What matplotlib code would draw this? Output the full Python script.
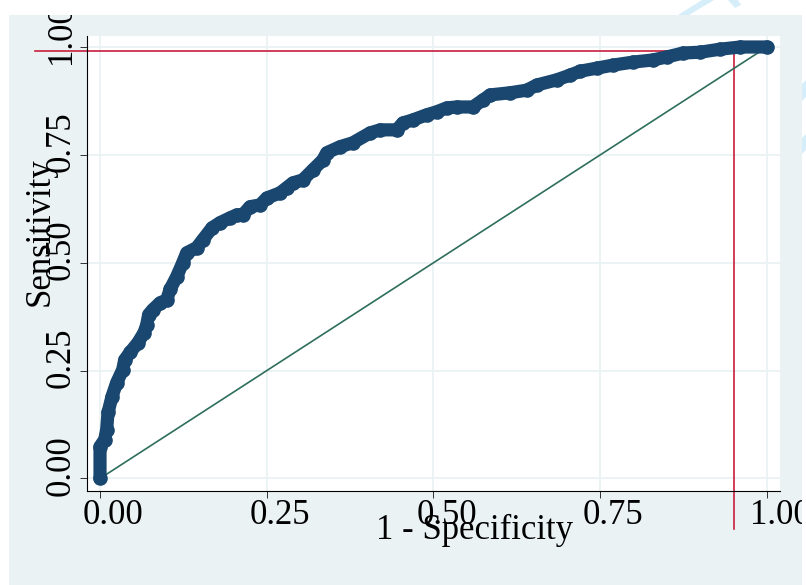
import matplotlib
matplotlib.use("Agg")
import matplotlib.pyplot as plt
from matplotlib.patches import Rectangle, Polygon
from matplotlib.transforms import ScaledTranslation

# ---------------- data ----------------
fpr = [0.000, 0.000, 0.007, 0.010, 0.012, 0.018, 0.025, 0.034, 0.037, 0.045,
       0.057, 0.066, 0.070, 0.073, 0.079, 0.090, 0.100, 0.105, 0.115, 0.124,
       0.130, 0.145, 0.154, 0.168, 0.180, 0.195, 0.205, 0.214, 0.225, 0.240,
       0.250, 0.270, 0.280, 0.289, 0.304, 0.319, 0.334, 0.340, 0.360, 0.379,
       0.405, 0.420, 0.445, 0.454, 0.469, 0.490, 0.505, 0.520, 0.535, 0.559,
       0.574, 0.585, 0.615, 0.640, 0.655, 0.685, 0.705, 0.720, 0.745, 0.769,
       0.799, 0.829, 0.850, 0.874, 0.900, 0.930, 0.960, 1.000]
tpr = [0.000, 0.074, 0.090, 0.113, 0.153, 0.190, 0.222, 0.252, 0.275, 0.292,
       0.315, 0.338, 0.356, 0.380, 0.391, 0.407, 0.414, 0.438, 0.468, 0.500,
       0.523, 0.535, 0.553, 0.581, 0.593, 0.604, 0.611, 0.611, 0.630, 0.634,
       0.650, 0.662, 0.674, 0.685, 0.692, 0.715, 0.738, 0.755, 0.769, 0.778,
       0.801, 0.808, 0.808, 0.824, 0.831, 0.843, 0.850, 0.859, 0.861, 0.861,
       0.877, 0.889, 0.894, 0.900, 0.912, 0.924, 0.935, 0.944, 0.951, 0.958,
       0.965, 0.970, 0.977, 0.986, 0.988, 0.995, 1.000, 1.000]
ref_x = [0.0, 1.0]
ref_y = [0.0, 1.0]
cut_spec = 0.951   # 1 - specificity at cut-off
cut_sens = 0.991   # sensitivity at cut-off
ticks = [0.0, 0.25, 0.5, 0.75, 1.0]
tick_labels = ["0.00", "0.25", "0.50", "0.75", "1.00"]

# ---------------- style ----------------
W, H = 806, 585
panel = "#EAF2F3"
navy = "#1A476F"
green = "#2E6E5C"
red = "#C81E3C"
serif = ["Liberation Serif", "DejaVu Serif"]
plt.rcParams["font.family"] = serif

fig = plt.figure(figsize=(W / 100, H / 100), dpi=100)
fig.patch.set_facecolor(panel)

ax = fig.add_axes([87 / W, 1 - 491 / H, (780 - 87) / W, (491 - 36) / H])
ax.set_facecolor("white")
ax.set_xlim(-0.0195, 1.0195)
ax.set_ylim(-0.029, 1.0255)

for s in ["top", "right"]:
    ax.spines[s].set_visible(False)
for s in ["left", "bottom"]:
    ax.spines[s].set_color("black")
    ax.spines[s].set_linewidth(0.8)

ax.set_xticks(ticks)
ax.set_yticks(ticks)
ax.set_xticklabels(tick_labels)
ax.set_yticklabels(tick_labels, rotation=90, va="center")
ax.tick_params(axis="both", direction="out", length=5, width=0.7,
               colors="#333333", labelcolor="black", labelsize=25)
ax.tick_params(axis="x", pad=1)
ax.tick_params(axis="y", pad=1.8)
ax.grid(True, color=panel, linewidth=1.3, zorder=0)
ax.set_axisbelow(True)

for lab in ax.get_xticklabels():
    lab.set_transform(lab.get_transform() + ScaledTranslation(13 / 100, 0, fig.dpi_scale_trans))
for lab in ax.get_yticklabels():
    lab.set_transform(lab.get_transform() + ScaledTranslation(0, 13 / 100, fig.dpi_scale_trans))

# cut-off lines (extend outside the plot region)
ax.plot([-0.0975, cut_spec], [cut_sens, cut_sens], color=red, lw=1.2,
        clip_on=False, zorder=2)
ax.plot([cut_spec, cut_spec], [cut_sens, -0.116], color=red, lw=1.2,
        clip_on=False, zorder=2)

ax.plot(ref_x, ref_y, color=green, lw=1.2, zorder=3)
ax.plot(fpr, tpr, color=navy, lw=9.5, marker="o", ms=9.5, mec=navy, mfc=navy,
        solid_joinstyle="round", solid_capstyle="round", zorder=4, clip_on=False)

fig.text(40 / W, 1 - 232 / H, "Sensitivity", rotation=90, ha="center", va="center",
         fontsize=25, family=serif)
fig.text(475 / W, 1 - 530 / H, "1 - Specificity", ha="center", va="center",
         fontsize=25, family=serif)

# white margins around the grey panel (clip overflowing labels)
def px_rect(x0, y0, x1, y1, **kw):
    return Rectangle((x0 / W, 1 - y1 / H), (x1 - x0) / W, (y1 - y0) / H,
                     transform=fig.transFigure, **kw)

for r in [(0, 0, W, 15), (0, 0, 9, H), (802, 0, W, H)]:
    fig.add_artist(px_rect(*r, facecolor="white", edgecolor="none", zorder=10))

# faint watermark fragments
wm = "#D6EEFA"
def px_poly(pts):
    return Polygon([(x / W, 1 - y / H) for x, y in pts], closed=True,
                   transform=fig.transFigure, facecolor=wm, edgecolor="none", zorder=11)

for pts in [[(678, 15), (689, 15), (714, 0), (702, 0)],
            [(728, 0), (738, 0), (741, 5), (735, 8)],
            [(802, 84), (806, 80), (806, 97), (802, 101)],
            [(802, 138), (806, 134), (806, 150), (802, 154)]]:
    fig.add_artist(px_poly(pts))

fig.savefig("out.png", dpi=100, facecolor=fig.get_facecolor())
